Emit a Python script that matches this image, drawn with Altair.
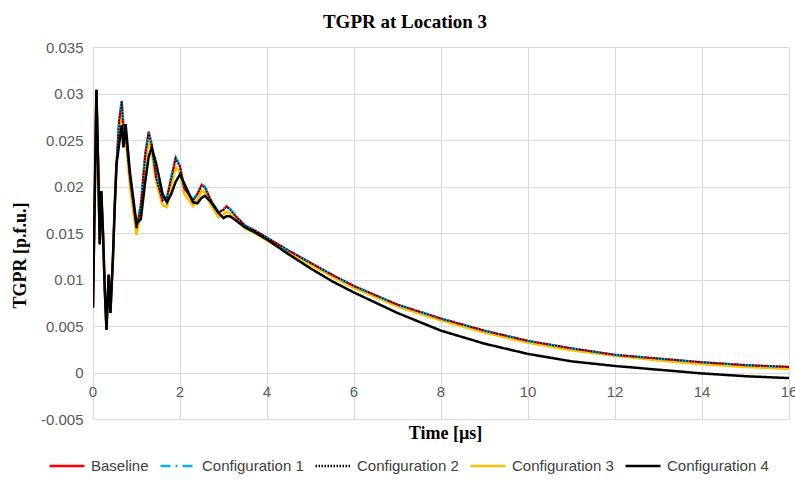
import altair as alt
import pandas as pd

# ---------------- data ----------------
time_us = [0, 0.04, 0.078, 0.12, 0.155, 0.19, 0.23, 0.27, 0.31, 0.36, 0.40, 0.46, 0.50, 0.54,
           0.6, 0.66, 0.7, 0.75, 0.85, 1.0, 1.1, 1.2, 1.28, 1.35, 1.45, 1.6, 1.7, 1.8, 1.9,
           2.0, 2.1, 2.3, 2.4, 2.5, 2.57, 2.7, 2.88, 3.0, 3.07, 3.15, 3.3, 3.5, 3.75, 4,
           4.5, 5, 5.5, 6, 7, 8, 9, 10, 11, 12, 13, 14, 15, 16]

# initial transient, common to all configurations
early = [0.0070, 0.0190, 0.0304, 0.0220, 0.0138, 0.0195, 0.0150, 0.0090, 0.0046, 0.0105,
         0.0064, 0.0125, 0.0179, 0.0224]

baseline_tail = [0.0270, 0.0292, 0.0265, 0.0258, 0.0210, 0.0155, 0.0180, 0.0235, 0.0259, 0.0245,
                 0.0210, 0.0185, 0.0188, 0.0210, 0.0231, 0.0222, 0.0198, 0.0185, 0.0192, 0.0202,
                 0.0200, 0.0186, 0.0172, 0.0175, 0.0179, 0.0176, 0.0167, 0.0158, 0.0152, 0.0145,
                 0.0131, 0.0118, 0.0105, 0.0093, 0.0073, 0.0058, 0.0045, 0.0034, 0.0026, 0.0019,
                 0.0015, 0.0011, 0.0008, 0.0006]
config1_tail = [0.0271, 0.0293, 0.0266, 0.0258, 0.0210, 0.0156, 0.0181, 0.0236, 0.0260, 0.0245,
                0.0211, 0.0186, 0.0189, 0.0211, 0.0231, 0.0222, 0.0199, 0.0186, 0.0193, 0.0202,
                0.0200, 0.0187, 0.0173, 0.0176, 0.0179, 0.0176, 0.0168, 0.0158, 0.0152, 0.0145,
                0.0131, 0.0118, 0.0105, 0.0093, 0.0073, 0.0058, 0.0045, 0.0034, 0.0026, 0.0019,
                0.0015, 0.0011, 0.0008, 0.0006]
config2_tail = [0.0270, 0.0291, 0.0265, 0.0257, 0.0209, 0.0155, 0.0180, 0.0234, 0.0258, 0.0244,
                0.0210, 0.0185, 0.0188, 0.0209, 0.0230, 0.0221, 0.0198, 0.0185, 0.0192, 0.0201,
                0.0199, 0.0186, 0.0172, 0.0175, 0.0178, 0.0175, 0.0167, 0.0158, 0.0152, 0.0145,
                0.0131, 0.0118, 0.0105, 0.0093, 0.0073, 0.0058, 0.0045, 0.0034, 0.0026, 0.0019,
                0.0015, 0.0011, 0.0008, 0.0006]
config3_tail = [0.0260, 0.0285, 0.0260, 0.0255, 0.0200, 0.0148, 0.0172, 0.0225, 0.0249, 0.0238,
                0.0205, 0.0180, 0.0178, 0.0202, 0.0221, 0.0215, 0.0192, 0.0179, 0.0186, 0.0195,
                0.0194, 0.0181, 0.0167, 0.0170, 0.0173, 0.0171, 0.0163, 0.0155, 0.0149, 0.0142,
                0.0129, 0.0116, 0.0103, 0.0091, 0.0071, 0.0056, 0.0043, 0.0032, 0.0024, 0.0018,
                0.0013, 0.0009, 0.0006, 0.0004]
config4_tail = [0.0245, 0.0266, 0.0242, 0.0267, 0.0215, 0.0160, 0.0165, 0.0205, 0.0232, 0.0242,
                0.0225, 0.0192, 0.0183, 0.0192, 0.0205, 0.0213, 0.0203, 0.0183, 0.0182, 0.0188,
                0.0190, 0.0184, 0.0172, 0.0166, 0.0168, 0.0168, 0.0163, 0.0156, 0.0150, 0.0143,
                0.0127, 0.0112, 0.0098, 0.0086, 0.0064, 0.0045, 0.0031, 0.0020, 0.0012, 0.0007,
                0.0003, -0.0001, -0.0004, -0.0006]

series_names = ["Baseline", "Configuration 1", "Configuration 2", "Configuration 3", "Configuration 4"]
series_tails = [baseline_tail, config1_tail, config2_tail, config3_tail, config4_tail]
series_colors = ["#FF0000", "#00B0F0", "#000000", "#FFC000", "#000000"]
series_dashes = [[1, 0], [10, 5, 2, 5], [1.5, 1.5], [1, 0], [1, 0]]
series_widths = [2.3, 2.2, 1.6, 2.6, 2.5]
draw_order = [3, 0, 1, 2, 4]

x_ticks = [0, 2, 4, 6, 8, 10, 12, 14, 16]
y_ticks = [-0.005, 0, 0.005, 0.01, 0.015, 0.02, 0.025, 0.03, 0.035]

# ---------------- tables ----------------
rows = []
for name, tail in zip(series_names, series_tails):
    for t, v in zip(time_us, early + tail):
        rows.append({"t": t, "v": v, "s": name})
df = pd.DataFrame(rows)
tick_df = pd.DataFrame({"t": x_ticks, "lab": [str(x) for x in x_ticks]})

color_scale = alt.Scale(domain=series_names, range=series_colors)
dash_scale = alt.Scale(domain=series_names, range=series_dashes)

x_enc = alt.X("t:Q", scale=alt.Scale(domain=[0, 16], nice=False, zero=False),
              axis=alt.Axis(values=x_ticks, grid=True, labels=False, ticks=False, domain=False,
                            title="Time [µs]", titleX=352, titleY=14, titleBaseline="middle",
                            titleAlign="center"))
y_enc = alt.Y("v:Q", scale=alt.Scale(domain=[-0.005, 0.035], nice=False, zero=False),
              axis=alt.Axis(values=y_ticks, grid=True, ticks=False, domain=False, labelPadding=10,
                            labelExpr="replace(format(datum.value, '.3~f'), '\u2212', '-')",
                            title="TGPR [p.f.u.]", titleX=-73, titleY=208, titleAngle=-90,
                            titleBaseline="middle", titleAlign="center"))

base = alt.Chart(df)
layers = []
for i in draw_order:
    layers.append(
        base.transform_filter(alt.datum.s == series_names[i])
        .mark_line(strokeWidth=series_widths[i], clip=True)
        .encode(
            x=x_enc,
            y=y_enc,
            color=alt.Color("s:N", scale=color_scale, title=None),
            strokeDash=alt.StrokeDash("s:N", scale=dash_scale, title=None),
        )
    )

tick_labels = alt.Chart(tick_df).mark_text(
    dy=19, font="Liberation Sans", fontSize=15, color="#595959"
).encode(
    x=x_enc,
    y=alt.YDatum(0),
    text="lab:N",
)

chart = alt.layer(*layers, tick_labels).properties(
    width=696,
    height=372,
    autosize=alt.AutoSizeParams(type="none"),
    padding={"left": 93, "top": 47, "right": 6, "bottom": 62},
    title=alt.TitleParams("TGPR at Location 3", font="Liberation Serif", fontSize=19,
                          fontWeight="bold", color="#000000", anchor="middle", frame="group",
                          dx=-36, offset=8),
).configure_view(
    stroke=None
).configure_axis(
    gridColor="#d9d9d9", gridWidth=1,
    labelFont="Liberation Sans", labelFontSize=15, labelColor="#595959",
    titleFont="Liberation Serif", titleFontWeight="bold", titleFontSize=18, titleColor="#000000",
).configure_legend(
    orient="none", legendX=-45, legendY=400, direction="horizontal",
    symbolType="stroke", symbolSize=1225, symbolStrokeWidth=2.5,
    labelFont="Liberation Sans", labelFontSize=15, labelColor="#404040",
    labelOffset=5, columnPadding=6, padding=0,
)

chart.save("out.html", embed_options={"renderer": "svg", "actions": False})
